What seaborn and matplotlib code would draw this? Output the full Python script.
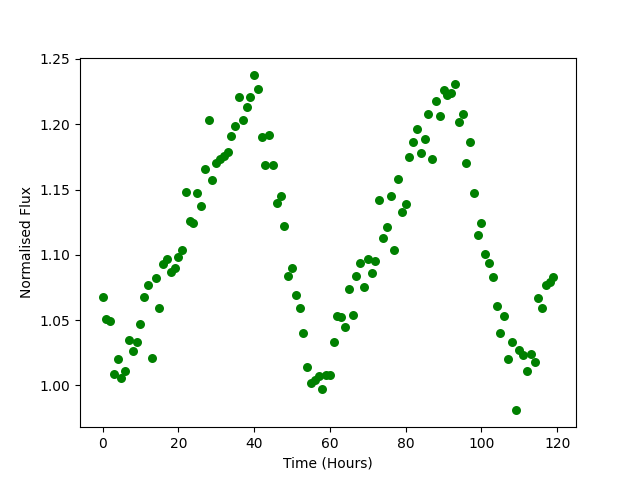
import seaborn as sns
import pandas as pd
import numpy as np
import matplotlib
matplotlib.use('Agg')
import matplotlib.pyplot as plt


# Hourly flux readings
hours = list(range(120))
flux = [
    1.068, 1.051, 1.049, 1.009, 1.020, 1.006, 1.011, 1.035, 1.026, 1.033,
    1.047, 1.068, 1.077, 1.021, 1.082, 1.059, 1.093, 1.097, 1.087, 1.090,
    1.098, 1.104, 1.148, 1.126, 1.124, 1.147, 1.137, 1.166, 1.203, 1.157,
    1.170, 1.173, 1.176, 1.179, 1.191, 1.199, 1.221, 1.203, 1.213, 1.221,
    1.238, 1.227, 1.190, 1.169, 1.192, 1.169, 1.140, 1.145, 1.122, 1.084,
    1.090, 1.069, 1.059, 1.040, 1.014, 1.002, 1.004, 1.007, 0.997, 1.008,
    1.008, 1.033, 1.053, 1.052, 1.045, 1.074, 1.054, 1.084, 1.094, 1.075,
    1.097, 1.086, 1.095, 1.142, 1.113, 1.121, 1.145, 1.104, 1.158, 1.133,
    1.139, 1.175, 1.186, 1.196, 1.178, 1.189, 1.208, 1.173, 1.218, 1.206,
    1.226, 1.222, 1.224, 1.231, 1.202, 1.208, 1.170, 1.186, 1.147, 1.115,
    1.124, 1.101, 1.094, 1.083, 1.061, 1.040, 1.053, 1.020, 1.033, 0.981,
    1.027, 1.023, 1.011, 1.024, 1.018, 1.067, 1.059, 1.077, 1.079, 1.083,
]
df = pd.DataFrame({'Time': hours, 'Flux': flux})

fig, ax = plt.subplots(figsize=(6.4, 4.8), dpi=100)
sns.scatterplot(data=df, x='Time', y='Flux', color='green', s=42,
                linewidth=0, ax=ax)
ax.set_xlabel('Time (Hours)')
ax.set_ylabel('Normalised Flux')
ax.set_yticks([1.00, 1.05, 1.10, 1.15, 1.20, 1.25])
ax.set_xlim(-5.95, 124.95)
ax.set_ylim(0.968, 1.251)
plt.savefig('out.png', dpi=100)
